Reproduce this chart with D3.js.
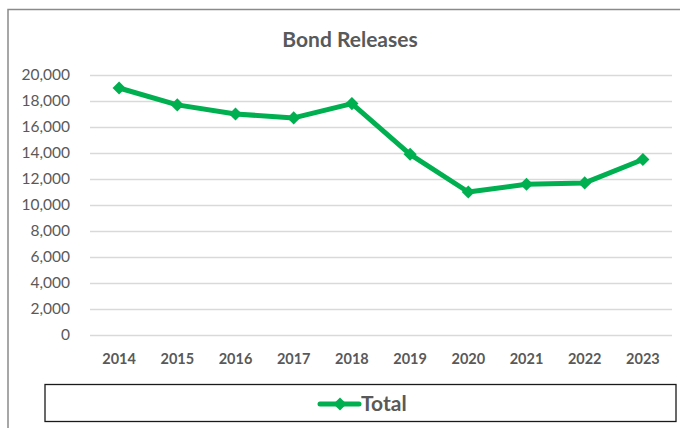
<!DOCTYPE html>
<html>
<head>
<meta charset="utf-8">
<script src="https://cdn.jsdelivr.net/npm/d3@7"></script>
<style>
	body { margin: 0; background: #fff; }
	svg { display: block; font-family: Lato, "Open Sans", sans-serif; }
</style>
</head>
<body>
<div id="chart"></div>
<script>
// values
var years = ["2014", "2015", "2016", "2017", "2018", "2019", "2020", "2021", "2022", "2023"];
var totals = [19000, 17700, 17000, 16700, 17800, 13900, 11000, 11600, 11700, 13500];
var yTicks = [0, 2000, 4000, 6000, 8000, 10000, 12000, 14000, 16000, 18000, 20000];
var seriesName = "Total";
var chartTitle = "Bond Releases";

var width = 680;
var height = 428;
var green = "#00b050";
var textGrey = "#595959";

var svg = d3.select("#chart").append("svg")
		.attr("width", width).attr("height", height);

// chart area border (cut off at right/bottom in the original)
svg.append("rect")
	.attr("x", 8).attr("y", 9.5)
	.attr("width", 700).attr("height", 440)
	.attr("fill", "none")
	.attr("stroke", "#8a8a8a")
	.attr("stroke-width", 1.5);

svg.append("text")
	.attr("x", 350).attr("y", 47)
	.attr("text-anchor", "middle")
	.attr("font-size", 21).attr("font-weight", "bold")
	.attr("fill", textGrey)
	.text(chartTitle);

var x = d3.scaleBand().domain(years).range([90, 672]).padding(0);
var y = d3.scaleLinear().domain([0, 20000]).range([335, 75]);

// gridlines
svg.append("g")
	.attr("transform", "translate(90,0)")
	.call(d3.axisLeft(y).tickValues(yTicks).tickSize(-582).tickFormat(""))
	.call(function(g) {
		g.select(".domain").remove();
		g.selectAll("line").attr("stroke", "#d9d9d9").attr("stroke-width", 1.3);
	});

// y labels
svg.append("g")
	.attr("transform", "translate(73,0)")
	.call(d3.axisLeft(y).tickValues(yTicks).tickSize(0).tickFormat(d3.format(",")))
	.call(function(g) {
		g.select(".domain").remove();
		g.selectAll("text")
			.attr("font-size", 15.5)
			.attr("font-family", "Lato, sans-serif")
			.attr("fill", textGrey);
	});

// x labels
svg.append("g")
	.attr("transform", "translate(0,351)")
	.call(d3.axisBottom(x).tickSize(0))
	.call(function(g) {
		g.select(".domain").remove();
		g.selectAll("text")
			.attr("font-size", 14.5)
			.attr("font-weight", "bold")
			.attr("font-family", "Lato, sans-serif")
			.attr("fill", textGrey);
	});

var cx = function(d, i) { return x(years[i]) + x.bandwidth() / 2; };

var line = d3.line()
	.x(cx)
	.y(function(d) { return y(d); });

svg.append("path")
	.datum(totals)
	.attr("d", line)
	.attr("fill", "none")
	.attr("stroke", green)
	.attr("stroke-width", 5)
	.attr("stroke-linejoin", "round");

var diamond = d3.symbol().type(d3.symbolDiamond2).size(110);

svg.selectAll("path.marker")
	.data(totals)
	.enter().append("path")
	.attr("class", "marker")
	.attr("d", diamond)
	.attr("transform", function(d, i) { return "translate(" + cx(d, i) + "," + y(d) + ")"; })
	.attr("fill", green);

// legend
svg.append("rect")
	.attr("x", 45).attr("y", 384.5)
	.attr("width", 631).attr("height", 37)
	.attr("fill", "#fff")
	.attr("stroke", "#1a1a1a")
	.attr("stroke-width", 1.3);

svg.append("line")
	.attr("x1", 320).attr("x2", 359)
	.attr("y1", 404).attr("y2", 404)
	.attr("stroke", green).attr("stroke-width", 5)
	.attr("stroke-linecap", "round");

svg.append("path")
	.attr("d", diamond)
	.attr("transform", "translate(340,404)")
	.attr("fill", green);

svg.append("text")
	.attr("x", 361).attr("y", 411)
	.attr("font-size", 21).attr("font-weight", "bold")
	.attr("fill", textGrey)
	.text(seriesName);
</script>
</body>
</html>
